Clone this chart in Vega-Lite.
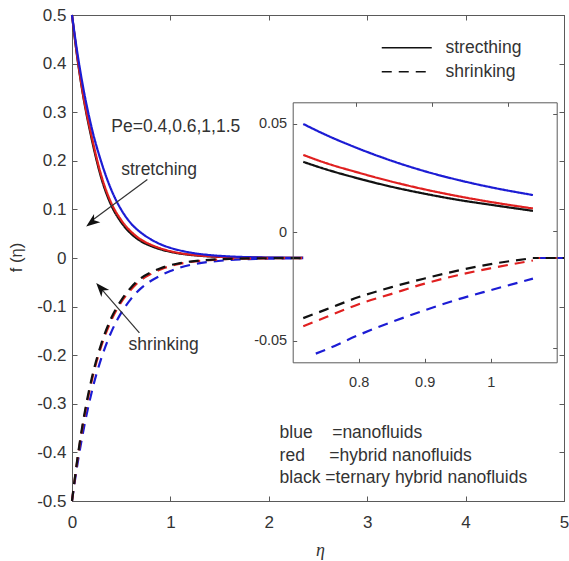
{
  "$schema": "https://vega.github.io/schema/vega-lite/v6.json",
  "width": 492,
  "height": 486,
  "autosize": "none",
  "padding": {"left": 72, "top": 15, "right": 5, "bottom": 60},
  "background": "white",
  "config": {
    "view": {"stroke": "#5a5a5a", "strokeWidth": 1},
    "font": "Liberation Sans",
    "axis": {"domainColor": "#5a5a5a", "tickColor": "#5a5a5a", "labelColor": "#333333", "labelFont": "Liberation Sans", "grid": false, "labelFlush": false, "labelOverlap": false, "titleColor": "#333333", "titleFontWeight": "normal"}
  },
  "datasets": {
    "main": [
      {"e":0,"f":0.5,"fluid":"ternary","case":"stretching"},
      {"e":0.05,"f":0.418,"fluid":"ternary","case":"stretching"},
      {"e":0.1,"f":0.35,"fluid":"ternary","case":"stretching"},
      {"e":0.2,"f":0.245,"fluid":"ternary","case":"stretching"},
      {"e":0.3,"f":0.163,"fluid":"ternary","case":"stretching"},
      {"e":0.4,"f":0.108,"fluid":"ternary","case":"stretching"},
      {"e":0.5,"f":0.0735,"fluid":"ternary","case":"stretching"},
      {"e":0.6,"f":0.05,"fluid":"ternary","case":"stretching"},
      {"e":0.7,"f":0.0345,"fluid":"ternary","case":"stretching"},
      {"e":0.8,"f":0.0248,"fluid":"ternary","case":"stretching"},
      {"e":0.9,"f":0.0178,"fluid":"ternary","case":"stretching"},
      {"e":1.0,"f":0.0127,"fluid":"ternary","case":"stretching"},
      {"e":1.1,"f":0.009,"fluid":"ternary","case":"stretching"},
      {"e":1.2,"f":0.0064,"fluid":"ternary","case":"stretching"},
      {"e":1.4,"f":0.0032,"fluid":"ternary","case":"stretching"},
      {"e":1.6,"f":0.0016,"fluid":"ternary","case":"stretching"},
      {"e":1.8,"f":0.0008,"fluid":"ternary","case":"stretching"},
      {"e":2.0,"f":0.0004,"fluid":"ternary","case":"stretching"},
      {"e":2.5,"f":0.0001,"fluid":"ternary","case":"stretching"},
      {"e":3,"f":0,"fluid":"ternary","case":"stretching"},
      {"e":4,"f":0,"fluid":"ternary","case":"stretching"},
      {"e":5,"f":0,"fluid":"ternary","case":"stretching"},

      {"e":0,"f":0.5,"fluid":"hybrid","case":"stretching"},
      {"e":0.05,"f":0.42,"fluid":"hybrid","case":"stretching"},
      {"e":0.1,"f":0.352,"fluid":"hybrid","case":"stretching"},
      {"e":0.2,"f":0.25,"fluid":"hybrid","case":"stretching"},
      {"e":0.3,"f":0.168,"fluid":"hybrid","case":"stretching"},
      {"e":0.4,"f":0.113,"fluid":"hybrid","case":"stretching"},
      {"e":0.5,"f":0.078,"fluid":"hybrid","case":"stretching"},
      {"e":0.6,"f":0.0543,"fluid":"hybrid","case":"stretching"},
      {"e":0.7,"f":0.038,"fluid":"hybrid","case":"stretching"},
      {"e":0.8,"f":0.0275,"fluid":"hybrid","case":"stretching"},
      {"e":0.9,"f":0.0198,"fluid":"hybrid","case":"stretching"},
      {"e":1.0,"f":0.014,"fluid":"hybrid","case":"stretching"},
      {"e":1.1,"f":0.0099,"fluid":"hybrid","case":"stretching"},
      {"e":1.2,"f":0.0071,"fluid":"hybrid","case":"stretching"},
      {"e":1.4,"f":0.0036,"fluid":"hybrid","case":"stretching"},
      {"e":1.6,"f":0.0018,"fluid":"hybrid","case":"stretching"},
      {"e":1.8,"f":0.0009,"fluid":"hybrid","case":"stretching"},
      {"e":2.0,"f":0.0005,"fluid":"hybrid","case":"stretching"},
      {"e":2.5,"f":0.0001,"fluid":"hybrid","case":"stretching"},
      {"e":3,"f":0,"fluid":"hybrid","case":"stretching"},
      {"e":4,"f":0,"fluid":"hybrid","case":"stretching"},
      {"e":5,"f":0,"fluid":"hybrid","case":"stretching"},

      {"e":0,"f":0.5,"fluid":"nano","case":"stretching"},
      {"e":0.05,"f":0.428,"fluid":"nano","case":"stretching"},
      {"e":0.1,"f":0.366,"fluid":"nano","case":"stretching"},
      {"e":0.2,"f":0.268,"fluid":"nano","case":"stretching"},
      {"e":0.3,"f":0.196,"fluid":"nano","case":"stretching"},
      {"e":0.4,"f":0.14,"fluid":"nano","case":"stretching"},
      {"e":0.5,"f":0.0995,"fluid":"nano","case":"stretching"},
      {"e":0.6,"f":0.071,"fluid":"nano","case":"stretching"},
      {"e":0.7,"f":0.0522,"fluid":"nano","case":"stretching"},
      {"e":0.8,"f":0.0386,"fluid":"nano","case":"stretching"},
      {"e":0.9,"f":0.0282,"fluid":"nano","case":"stretching"},
      {"e":1.0,"f":0.0208,"fluid":"nano","case":"stretching"},
      {"e":1.1,"f":0.0155,"fluid":"nano","case":"stretching"},
      {"e":1.2,"f":0.0113,"fluid":"nano","case":"stretching"},
      {"e":1.4,"f":0.006,"fluid":"nano","case":"stretching"},
      {"e":1.6,"f":0.0032,"fluid":"nano","case":"stretching"},
      {"e":1.8,"f":0.0017,"fluid":"nano","case":"stretching"},
      {"e":2.0,"f":0.0009,"fluid":"nano","case":"stretching"},
      {"e":2.5,"f":0.0002,"fluid":"nano","case":"stretching"},
      {"e":3,"f":0,"fluid":"nano","case":"stretching"},
      {"e":4,"f":0,"fluid":"nano","case":"stretching"},
      {"e":5,"f":0,"fluid":"nano","case":"stretching"},

      {"e":0,"f":-0.5,"fluid":"nano","case":"shrinking"},
      {"e":0.05,"f":-0.431,"fluid":"nano","case":"shrinking"},
      {"e":0.1,"f":-0.372,"fluid":"nano","case":"shrinking"},
      {"e":0.2,"f":-0.276,"fluid":"nano","case":"shrinking"},
      {"e":0.3,"f":-0.205,"fluid":"nano","case":"shrinking"},
      {"e":0.4,"f":-0.152,"fluid":"nano","case":"shrinking"},
      {"e":0.5,"f":-0.113,"fluid":"nano","case":"shrinking"},
      {"e":0.6,"f":-0.084,"fluid":"nano","case":"shrinking"},
      {"e":0.7,"f":-0.0625,"fluid":"nano","case":"shrinking"},
      {"e":0.8,"f":-0.0474,"fluid":"nano","case":"shrinking"},
      {"e":0.9,"f":-0.036,"fluid":"nano","case":"shrinking"},
      {"e":1.0,"f":-0.0267,"fluid":"nano","case":"shrinking"},
      {"e":1.1,"f":-0.0195,"fluid":"nano","case":"shrinking"},
      {"e":1.2,"f":-0.0143,"fluid":"nano","case":"shrinking"},
      {"e":1.4,"f":-0.0078,"fluid":"nano","case":"shrinking"},
      {"e":1.6,"f":-0.0043,"fluid":"nano","case":"shrinking"},
      {"e":1.8,"f":-0.0024,"fluid":"nano","case":"shrinking"},
      {"e":2.0,"f":-0.0013,"fluid":"nano","case":"shrinking"},
      {"e":2.5,"f":-0.0003,"fluid":"nano","case":"shrinking"},
      {"e":3,"f":-0.0001,"fluid":"nano","case":"shrinking"},
      {"e":4,"f":0,"fluid":"nano","case":"shrinking"},
      {"e":5,"f":0,"fluid":"nano","case":"shrinking"},

      {"e":0,"f":-0.5,"fluid":"hybrid","case":"shrinking"},
      {"e":0.05,"f":-0.422,"fluid":"hybrid","case":"shrinking"},
      {"e":0.1,"f":-0.356,"fluid":"hybrid","case":"shrinking"},
      {"e":0.2,"f":-0.253,"fluid":"hybrid","case":"shrinking"},
      {"e":0.3,"f":-0.18,"fluid":"hybrid","case":"shrinking"},
      {"e":0.4,"f":-0.128,"fluid":"hybrid","case":"shrinking"},
      {"e":0.5,"f":-0.091,"fluid":"hybrid","case":"shrinking"},
      {"e":0.6,"f":-0.065,"fluid":"hybrid","case":"shrinking"},
      {"e":0.7,"f":-0.0455,"fluid":"hybrid","case":"shrinking"},
      {"e":0.8,"f":-0.0332,"fluid":"hybrid","case":"shrinking"},
      {"e":0.9,"f":-0.0235,"fluid":"hybrid","case":"shrinking"},
      {"e":1.0,"f":-0.0166,"fluid":"hybrid","case":"shrinking"},
      {"e":1.1,"f":-0.0117,"fluid":"hybrid","case":"shrinking"},
      {"e":1.2,"f":-0.0083,"fluid":"hybrid","case":"shrinking"},
      {"e":1.4,"f":-0.0042,"fluid":"hybrid","case":"shrinking"},
      {"e":1.6,"f":-0.0021,"fluid":"hybrid","case":"shrinking"},
      {"e":1.8,"f":-0.0011,"fluid":"hybrid","case":"shrinking"},
      {"e":2.0,"f":-0.0006,"fluid":"hybrid","case":"shrinking"},
      {"e":2.5,"f":-0.0001,"fluid":"hybrid","case":"shrinking"},
      {"e":3,"f":0,"fluid":"hybrid","case":"shrinking"},
      {"e":4,"f":0,"fluid":"hybrid","case":"shrinking"},
      {"e":5,"f":0,"fluid":"hybrid","case":"shrinking"},

      {"e":0,"f":-0.5,"fluid":"ternary","case":"shrinking"},
      {"e":0.05,"f":-0.42,"fluid":"ternary","case":"shrinking"},
      {"e":0.1,"f":-0.352,"fluid":"ternary","case":"shrinking"},
      {"e":0.2,"f":-0.248,"fluid":"ternary","case":"shrinking"},
      {"e":0.3,"f":-0.175,"fluid":"ternary","case":"shrinking"},
      {"e":0.4,"f":-0.123,"fluid":"ternary","case":"shrinking"},
      {"e":0.5,"f":-0.087,"fluid":"ternary","case":"shrinking"},
      {"e":0.6,"f":-0.0605,"fluid":"ternary","case":"shrinking"},
      {"e":0.7,"f":-0.0416,"fluid":"ternary","case":"shrinking"},
      {"e":0.8,"f":-0.0297,"fluid":"ternary","case":"shrinking"},
      {"e":0.9,"f":-0.0212,"fluid":"ternary","case":"shrinking"},
      {"e":1.0,"f":-0.0147,"fluid":"ternary","case":"shrinking"},
      {"e":1.1,"f":-0.0104,"fluid":"ternary","case":"shrinking"},
      {"e":1.2,"f":-0.0074,"fluid":"ternary","case":"shrinking"},
      {"e":1.4,"f":-0.0037,"fluid":"ternary","case":"shrinking"},
      {"e":1.6,"f":-0.0018,"fluid":"ternary","case":"shrinking"},
      {"e":1.8,"f":-0.0009,"fluid":"ternary","case":"shrinking"},
      {"e":2.0,"f":-0.0005,"fluid":"ternary","case":"shrinking"},
      {"e":2.5,"f":-0.0001,"fluid":"ternary","case":"shrinking"},
      {"e":3,"f":0,"fluid":"ternary","case":"shrinking"},
      {"e":4,"f":0,"fluid":"ternary","case":"shrinking"},
      {"e":5,"f":0,"fluid":"ternary","case":"shrinking"}
    ],
    "inset": [
      {"e":0.716,"f":0.05,"fluid":"nano","case":"stretching"},
      {"e":0.75,"f":0.045,"fluid":"nano","case":"stretching"},
      {"e":0.8,"f":0.0386,"fluid":"nano","case":"stretching"},
      {"e":0.85,"f":0.033,"fluid":"nano","case":"stretching"},
      {"e":0.9,"f":0.0282,"fluid":"nano","case":"stretching"},
      {"e":0.95,"f":0.0242,"fluid":"nano","case":"stretching"},
      {"e":1.0,"f":0.0208,"fluid":"nano","case":"stretching"},
      {"e":1.064,"f":0.0172,"fluid":"nano","case":"stretching"},

      {"e":0.716,"f":0.0357,"fluid":"hybrid","case":"stretching"},
      {"e":0.75,"f":0.032,"fluid":"hybrid","case":"stretching"},
      {"e":0.8,"f":0.0275,"fluid":"hybrid","case":"stretching"},
      {"e":0.85,"f":0.0234,"fluid":"hybrid","case":"stretching"},
      {"e":0.9,"f":0.0198,"fluid":"hybrid","case":"stretching"},
      {"e":0.95,"f":0.0167,"fluid":"hybrid","case":"stretching"},
      {"e":1.0,"f":0.014,"fluid":"hybrid","case":"stretching"},
      {"e":1.064,"f":0.011,"fluid":"hybrid","case":"stretching"},

      {"e":0.716,"f":0.0325,"fluid":"ternary","case":"stretching"},
      {"e":0.75,"f":0.0291,"fluid":"ternary","case":"stretching"},
      {"e":0.8,"f":0.0248,"fluid":"ternary","case":"stretching"},
      {"e":0.85,"f":0.021,"fluid":"ternary","case":"stretching"},
      {"e":0.9,"f":0.0178,"fluid":"ternary","case":"stretching"},
      {"e":0.95,"f":0.015,"fluid":"ternary","case":"stretching"},
      {"e":1.0,"f":0.0127,"fluid":"ternary","case":"stretching"},
      {"e":1.064,"f":0.0099,"fluid":"ternary","case":"stretching"},

      {"e":0.735,"f":-0.056,"fluid":"nano","case":"shrinking"},
      {"e":0.75,"f":-0.0542,"fluid":"nano","case":"shrinking"},
      {"e":0.8,"f":-0.0474,"fluid":"nano","case":"shrinking"},
      {"e":0.85,"f":-0.0414,"fluid":"nano","case":"shrinking"},
      {"e":0.9,"f":-0.036,"fluid":"nano","case":"shrinking"},
      {"e":0.95,"f":-0.031,"fluid":"nano","case":"shrinking"},
      {"e":1.0,"f":-0.0267,"fluid":"nano","case":"shrinking"},
      {"e":1.064,"f":-0.0214,"fluid":"nano","case":"shrinking"},

      {"e":0.716,"f":-0.0434,"fluid":"hybrid","case":"shrinking"},
      {"e":0.75,"f":-0.0392,"fluid":"hybrid","case":"shrinking"},
      {"e":0.8,"f":-0.0332,"fluid":"hybrid","case":"shrinking"},
      {"e":0.85,"f":-0.0284,"fluid":"hybrid","case":"shrinking"},
      {"e":0.9,"f":-0.0237,"fluid":"hybrid","case":"shrinking"},
      {"e":0.95,"f":-0.0198,"fluid":"hybrid","case":"shrinking"},
      {"e":1.0,"f":-0.0166,"fluid":"hybrid","case":"shrinking"},
      {"e":1.064,"f":-0.013,"fluid":"hybrid","case":"shrinking"},

      {"e":0.716,"f":-0.0396,"fluid":"ternary","case":"shrinking"},
      {"e":0.75,"f":-0.0357,"fluid":"ternary","case":"shrinking"},
      {"e":0.8,"f":-0.0299,"fluid":"ternary","case":"shrinking"},
      {"e":0.85,"f":-0.0253,"fluid":"ternary","case":"shrinking"},
      {"e":0.9,"f":-0.0213,"fluid":"ternary","case":"shrinking"},
      {"e":0.95,"f":-0.0177,"fluid":"ternary","case":"shrinking"},
      {"e":1.0,"f":-0.0147,"fluid":"ternary","case":"shrinking"},
      {"e":1.064,"f":-0.0119,"fluid":"ternary","case":"shrinking"}
    ]
  },
  "resolve": {"scale": {"x": "independent", "y": "independent"}},
  "layer": [
    {
      "layer": [
        {
          "data": {"name": "main"},
          "mark": {"type": "line", "interpolate": "monotone", "strokeWidth": 2.2},
          "encoding": {
            "x": {"field": "e", "type": "quantitative", "scale": {"domain": [0, 5]},
              "axis": {"orient": "bottom", "values": [0, 1, 2, 3, 4, 5], "labelExpr": "'' + datum.value", "tickSize": -5, "labelPadding": 18, "labelFontSize": 17,
                "title": "η", "titleFont": "Liberation Serif", "titleFontStyle": "italic", "titleFontSize": 18, "titleX": 248, "titleY": 49, "titleAlign": "center", "titleBaseline": "middle"}},
            "y": {"field": "f", "type": "quantitative", "scale": {"domain": [-0.5, 0.5]},
              "axis": {"orient": "left", "values": [-0.5, -0.4, -0.3, -0.2, -0.1, 0, 0.1, 0.2, 0.3, 0.4, 0.5], "labelExpr": "'' + datum.value", "tickSize": -5, "labelPadding": 11, "labelFontSize": 17,
                "title": "f (η)", "titleFontSize": 16.5, "titleX": -56, "titleY": 242, "titleAngle": -90, "titleAlign": "center", "titleBaseline": "middle"}},
            "color": {"field": "fluid", "type": "nominal", "scale": {"domain": ["nano", "hybrid", "ternary"], "range": ["#1c1cd4", "#e02020", "#111111"]}, "legend": null},
            "strokeDash": {"field": "case", "type": "nominal", "scale": {"domain": ["stretching", "shrinking"], "range": [[1, 0], [10, 7]]},
              "legend": {"orient": "none", "legendX": 326, "legendY": 24, "title": null, "symbolType": "M-5,0L5,0", "symbolSize": 100, "symbolStrokeWidth": 1.6, "symbolStrokeColor": "#111111", "symbolFillColor": "transparent", "labelFontSize": 17.5, "labelColor": "#333333", "labelOffset": 30, "rowPadding": 5, "padding": 0, "labelExpr": "datum.label == 'stretching' ? 'strecthing' : datum.label"}}
          }
        },
        {
          "data": {"values": [{}]},
          "mark": {"type": "text", "align": "left", "baseline": "middle", "fontSize": 17.5, "color": "#333333", "font": "Liberation Sans"},
          "encoding": {"x": {"datum": 0.4, "type": "quantitative"}, "y": {"datum": 0.269, "type": "quantitative"}, "text": {"value": "Pe=0.4,0.6,1,1.5"}}
        },
        {
          "data": {"values": [{}]},
          "mark": {"type": "text", "align": "left", "baseline": "middle", "fontSize": 17.5, "color": "#333333", "font": "Liberation Sans"},
          "encoding": {"x": {"datum": 0.5, "type": "quantitative"}, "y": {"datum": 0.182, "type": "quantitative"}, "text": {"value": "stretching"}}
        },
        {
          "data": {"values": [{}]},
          "mark": {"type": "text", "align": "left", "baseline": "middle", "fontSize": 17.5, "color": "#333333", "font": "Liberation Sans"},
          "encoding": {"x": {"datum": 0.575, "type": "quantitative"}, "y": {"datum": -0.179, "type": "quantitative"}, "text": {"value": "shrinking"}}
        },
        {
          "data": {"values": [{}]},
          "mark": {"type": "text", "align": "left", "baseline": "middle", "fontSize": 17.5, "color": "#333333", "font": "Liberation Sans"},
          "encoding": {"x": {"datum": 2.11, "type": "quantitative"}, "y": {"datum": -0.361, "type": "quantitative"}, "text": {"value": "blue\u00a0\u00a0\u00a0\u00a0=nanofluids"}}
        },
        {
          "data": {"values": [{}]},
          "mark": {"type": "text", "align": "left", "baseline": "middle", "fontSize": 17.5, "color": "#333333", "font": "Liberation Sans"},
          "encoding": {"x": {"datum": 2.11, "type": "quantitative"}, "y": {"datum": -0.408, "type": "quantitative"}, "text": {"value": "red\u00a0\u00a0\u00a0\u00a0\u00a0=hybrid nanofluids"}}
        },
        {
          "data": {"values": [{}]},
          "mark": {"type": "text", "align": "left", "baseline": "middle", "fontSize": 17.5, "color": "#333333", "font": "Liberation Sans"},
          "encoding": {"x": {"datum": 2.11, "type": "quantitative"}, "y": {"datum": -0.453, "type": "quantitative"}, "text": {"value": "black =ternary hybrid nanofluids"}}
        },
        {
          "data": {"values": [{}]},
          "mark": {"type": "rule", "color": "#333333", "strokeWidth": 1.2},
          "encoding": {"x": {"datum": 0.766, "type": "quantitative"}, "y": {"datum": 0.1614, "type": "quantitative"}, "x2": {"datum": 0.21}, "y2": {"datum": 0.078}}
        },
        {
          "data": {"values": [{}]},
          "mark": {"type": "point", "shape": "M0,0L0.6,1.6L0,1.15L-0.6,1.6Z", "filled": true, "color": "#111111", "opacity": 1, "size": 300, "angle": 232.7, "strokeWidth": 0},
          "encoding": {"x": {"datum": 0.144, "type": "quantitative"}, "y": {"datum": 0.065, "type": "quantitative"}}
        },
        {
          "data": {"values": [{}]},
          "mark": {"type": "rule", "color": "#333333", "strokeWidth": 1.2},
          "encoding": {"x": {"datum": 0.685, "type": "quantitative"}, "y": {"datum": -0.154, "type": "quantitative"}, "x2": {"datum": 0.3}, "y2": {"datum": -0.064}}
        },
        {
          "data": {"values": [{}]},
          "mark": {"type": "point", "shape": "M0,0L0.6,1.6L0,1.15L-0.6,1.6Z", "filled": true, "color": "#111111", "opacity": 1, "size": 300, "angle": 318.9, "strokeWidth": 0},
          "encoding": {"x": {"datum": 0.246, "type": "quantitative"}, "y": {"datum": -0.0515, "type": "quantitative"}}
        }
      ]
    },
    {
      "data": {"values": [{}]},
      "mark": {"type": "point", "opacity": 0},
      "encoding": {
        "x": {"datum": 1, "type": "quantitative", "scale": {"domain": [0, 5]},
          "axis": {"orient": "top", "values": [0, 1, 2, 3, 4, 5], "labels": false, "tickSize": -5, "title": null}},
        "y": {"datum": 0, "type": "quantitative", "scale": {"domain": [-0.5, 0.5]},
          "axis": {"orient": "right", "values": [-0.5, -0.4, -0.3, -0.2, -0.1, 0, 0.1, 0.2, 0.3, 0.4, 0.5], "labels": false, "tickSize": -5, "title": null}}
      }
    },
    {
      "layer": [
        {
          "data": {"values": [{}]},
          "mark": {"type": "rect", "fill": "white", "strokeWidth": 0},
          "encoding": {
            "x": {"datum": 0.716, "type": "quantitative", "scale": {"domain": [0.716, 1.064], "range": [220.7, 484.7]},
              "axis": {"orient": "bottom", "offset": -138.7, "values": [0.8, 0.9, 1], "labelExpr": "'' + datum.value", "tickSize": -4, "labelPadding": 17, "labelFontSize": 14.5, "title": null, "zindex": 1}},
            "x2": {"datum": 1.064},
            "y": {"datum": -0.056, "type": "quantitative", "scale": {"domain": [-0.056, 0.0548], "range": [347.3, 87.3]},
              "axis": {"orient": "left", "offset": -220.7, "values": [-0.05, 0, 0.05], "labelExpr": "'' + datum.value", "tickSize": -4, "labelPadding": 10, "labelFontSize": 14.5, "title": null, "zindex": 1}},
            "y2": {"datum": 0.0548}
          }
        },
        {
          "data": {"name": "inset"},
          "mark": {"type": "line", "interpolate": "monotone", "strokeWidth": 2.2},
          "encoding": {
            "x": {"field": "e", "type": "quantitative"},
            "y": {"field": "f", "type": "quantitative"},
            "color": {"field": "fluid", "type": "nominal", "scale": {"domain": ["nano", "hybrid", "ternary"], "range": ["#1c1cd4", "#e02020", "#111111"]}, "legend": null},
            "strokeDash": {"field": "case", "type": "nominal", "scale": {"domain": ["stretching", "shrinking"], "range": [[1, 0], [10, 7]]},
              "legend": {"orient": "none", "legendX": 326, "legendY": 24, "title": null, "symbolType": "M-5,0L5,0", "symbolSize": 100, "symbolStrokeWidth": 1.6, "symbolStrokeColor": "#111111", "symbolFillColor": "transparent", "labelFontSize": 17.5, "labelColor": "#333333", "labelOffset": 30, "rowPadding": 5, "padding": 0, "labelExpr": "datum.label == 'stretching' ? 'strecthing' : datum.label"}}
          }
        }
      ]
    },
    {
      "data": {"values": [{}]},
      "mark": {"type": "point", "opacity": 0},
      "encoding": {
        "x": {"datum": 0.9, "type": "quantitative", "scale": {"domain": [0.716, 1.064], "range": [220.7, 484.7]},
          "axis": {"orient": "top", "offset": -87.3, "values": [0.8, 0.9, 1], "labels": false, "tickSize": -4, "title": null, "zindex": 1}},
        "y": {"datum": 0, "type": "quantitative", "scale": {"domain": [-0.056, 0.0548], "range": [347.3, 87.3]},
          "axis": {"orient": "right", "offset": -7.3, "values": [-0.05, 0, 0.05], "labels": false, "tickSize": -4, "title": null, "zindex": 1}}
      }
    }
  ]
}
